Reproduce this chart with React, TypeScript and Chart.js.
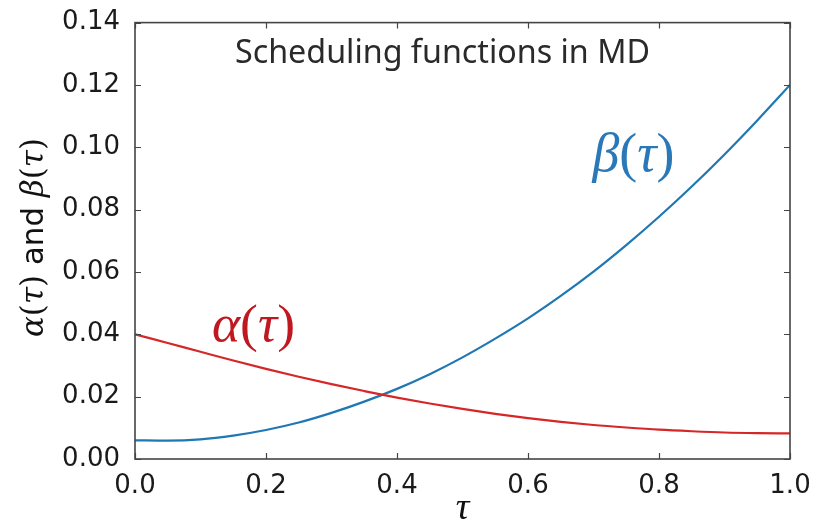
import React, { useEffect, useRef } from "react";
import { Chart, registerables } from "chart.js";

Chart.register(...registerables);

// ---- data ----
const tauValues = [0, 0.05, 0.1, 0.15, 0.2, 0.25, 0.3, 0.35, 0.4, 0.45, 0.5, 0.55, 0.6, 0.65, 0.7, 0.75, 0.8, 0.85, 0.9, 0.95, 1.0];
const alphaValues = [0.04, 0.0372, 0.0344, 0.0316, 0.0289, 0.0264, 0.024, 0.0218, 0.0197, 0.0178, 0.0161, 0.0145, 0.0131, 0.0119, 0.0109, 0.0101, 0.0094, 0.0089, 0.0085, 0.0083, 0.0082];
const betaValues = [0.006, 0.0059, 0.0063, 0.0075, 0.0093, 0.0117, 0.0148, 0.0184, 0.0225, 0.0272, 0.0326, 0.0386, 0.0451, 0.0523, 0.0601, 0.0686, 0.0777, 0.0874, 0.0977, 0.1086, 0.12];
const xTickValues = [0, 0.2, 0.4, 0.6, 0.8, 1.0];
const yTickValues = [0, 0.02, 0.04, 0.06, 0.08, 0.1, 0.12, 0.14];

const titleText = "Scheduling functions in MD";
const BLUE = "#1f77b4";
const RED = "#d62728";
const BLUE_TEXT = "#2a78b8";
const RED_TEXT = "#c01820";
const AXIS = "#444444";

type Run = { t: string; style: string; family: string };
const SERIF = "'DejaVu Serif', 'Liberation Serif', serif";
const LSERIF = "'Liberation Serif', 'DejaVu Serif', serif";
const SANS = "'DejaVu Sans', sans-serif";

function mathRuns(greek: string, family: string): Run[] {
  return [
    { t: greek, style: "italic", family },
    { t: "(", style: "normal", family },
    { t: "τ", style: "italic", family },
    { t: ")", style: "normal", family },
  ];
}

function drawRuns(ctx: CanvasRenderingContext2D, runs: Run[], cx: number, baseline: number, targetWidth: number, color: string) {
  const base = 30;
  const measure = (s: number) =>
    runs.reduce((w, r) => {
      ctx.font = `${r.style} ${s}px ${r.family}`;
      return w + ctx.measureText(r.t).width;
    }, 0);
  const size = (base * targetWidth) / measure(base);
  let x = cx - targetWidth / 2;
  ctx.fillStyle = color;
  ctx.textAlign = "left";
  ctx.textBaseline = "alphabetic";
  for (const r of runs) {
    ctx.font = `${r.style} ${size}px ${r.family}`;
    ctx.fillText(r.t, x, baseline);
    x += ctx.measureText(r.t).width;
  }
}

const overlayPlugin = {
  id: "overlay",
  afterDraw(chart: any) {
    const { ctx, chartArea: a, scales } = chart;
    const xs = scales.x;
    const ys = scales.y;
    ctx.save();
    // frame
    ctx.strokeStyle = AXIS;
    ctx.lineWidth = 1.6;
    ctx.strokeRect(a.left, a.top, a.right - a.left, a.bottom - a.top);
    // inward ticks
    const L = 6;
    ctx.beginPath();
    for (const v of xTickValues) {
      const px = Math.round(xs.getPixelForValue(v)) + 0.5;
      ctx.moveTo(px, a.bottom);
      ctx.lineTo(px, a.bottom - L);
      ctx.moveTo(px, a.top);
      ctx.lineTo(px, a.top + L);
    }
    for (const v of yTickValues) {
      const py = Math.round(ys.getPixelForValue(v)) + 0.5;
      ctx.moveTo(a.left, py);
      ctx.lineTo(a.left + L, py);
      ctx.moveTo(a.right, py);
      ctx.lineTo(a.right - L, py);
    }
    ctx.lineWidth = 1.2;
    ctx.stroke();

    // title inside plot
    drawRuns(ctx, [{ t: titleText, style: "normal", family: "'Noto Sans', sans-serif" }], 442.5, 63, 415, "#2a2a2a");
    // series labels
    drawRuns(ctx, mathRuns("β", LSERIF), 633.5, 171, 82, BLUE_TEXT);
    drawRuns(ctx, mathRuns("α", LSERIF), 253.5, 341, 83, RED_TEXT);

    // x axis title
    ctx.fillStyle = "#111";
    ctx.font = `italic 38px ${LSERIF}`;
    ctx.textAlign = "center";
    ctx.textBaseline = "alphabetic";
    ctx.fillText("τ", (a.left + a.right) / 2, 519);

    // y axis title
    ctx.save();
    ctx.translate(43, 237.5);
    ctx.rotate(-Math.PI / 2);
    const yRuns: Run[] = [
      ...mathRuns("α", SERIF),
      { t: " and ", style: "normal", family: SANS },
      ...mathRuns("β", SERIF),
    ];
    drawRuns(ctx, yRuns, 0, 0, 199, "#111");
    ctx.restore();

    ctx.restore();
  },
};

export default function App() {
  const ref = useRef<HTMLCanvasElement | null>(null);

  useEffect(() => {
    document.body.style.margin = "0";
    const canvas = ref.current;
    if (!canvas) return;
    const chart = new Chart(canvas, {
      type: "line",
      data: {
        datasets: [
          {
            label: "alpha",
            data: tauValues.map((t, i) => ({ x: t, y: alphaValues[i] })),
            borderColor: RED,
            borderWidth: 2.2,
            pointRadius: 0,
            cubicInterpolationMode: "monotone",
            fill: false,
          },
          {
            label: "beta",
            data: tauValues.map((t, i) => ({ x: t, y: betaValues[i] })),
            borderColor: BLUE,
            borderWidth: 2.2,
            pointRadius: 0,
            cubicInterpolationMode: "monotone",
            fill: false,
          },
        ],
      },
      options: {
        animation: false,
        responsive: false,
        maintainAspectRatio: false,
        layout: { padding: { top: 22, right: 26, left: 0, bottom: 0 } },
        plugins: {
          legend: { display: false },
          tooltip: { enabled: false },
          title: { display: false },
        },
        scales: {
          x: {
            type: "linear",
            min: 0,
            max: 1,
            afterBuildTicks: (s: any) => {
              s.ticks = xTickValues.map((v) => ({ value: v }));
            },
            afterFit: (s: any) => {
              s.height = 67;
            },
            ticks: {
              callback: (v: any) => Number(v).toFixed(1),
              font: { family: "'DejaVu Sans', sans-serif", size: 26 },
              color: "#1a1a1a",
              padding: 4,
              maxRotation: 0,
              autoSkip: false,
            },
            grid: { display: false },
            border: { display: false },
          },
          y: {
            type: "linear",
            min: 0,
            max: 0.14,
            afterBuildTicks: (s: any) => {
              s.ticks = yTickValues.map((v) => ({ value: v }));
            },
            afterFit: (s: any) => {
              s.width = 135;
            },
            ticks: {
              callback: (v: any) => Number(v).toFixed(2),
              font: { family: "'DejaVu Sans', sans-serif", size: 26 },
              color: "#1a1a1a",
              padding: 7,
              autoSkip: false,
            },
            grid: { display: false },
            border: { display: false },
          },
        },
      },
      plugins: [overlayPlugin],
    });
    return () => chart.destroy();
  }, []);

  return (
    <div style={{ position: "fixed", left: 0, top: 0, width: 816, height: 526, background: "#fff" }}>
      <canvas ref={ref} width={816} height={526} style={{ display: "block", width: 816, height: 526 }} />
    </div>
  );
}
